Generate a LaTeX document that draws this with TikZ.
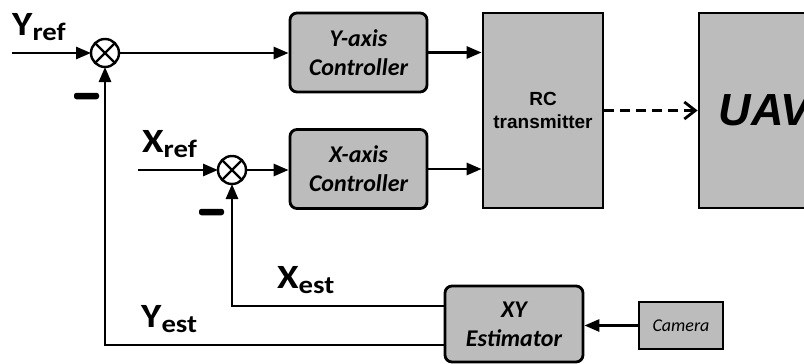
\documentclass[tikz,border=0pt]{standalone}
\usepackage{fontspec}
\setmainfont{Carlito}
\newfontfamily\arialf{Liberation Sans}
\usetikzlibrary{arrows.meta,calc}
\definecolor{boxgray}{RGB}{188,188,188}
\newcommand{\sigtext}[2]{\scalebox{1.15}[1]{#1{\fontsize{25}{25}\selectfont\raisebox{-5pt}{#2}}}}
\begin{document}
\begin{tikzpicture}[x=1pt,y=-1pt,
  blk/.style={draw, line width=2.8pt, fill=boxgray, inner sep=0pt, align=center},
  ctrl/.style={blk, rounded corners=7pt, minimum width=137pt, minimum height=79pt,
    font=\fontsize{24}{29}\selectfont\bfseries\itshape},
  sumj/.style={circle, draw, line width=2.4pt, minimum size=28pt, inner sep=0pt, outer sep=0pt},
  conn/.style={line width=2.8pt, -{Triangle[length=15pt,width=12pt]}},
  sig/.style={anchor=base west, inner sep=0pt, font=\fontsize{34}{34}\selectfont\bfseries},
  minusbar/.style={fill=black, rounded corners=2.5pt, minimum width=25pt, minimum height=6.5pt, inner sep=0pt}
]
\useasboundingbox (0,0) rectangle (804,364);
\clip (0,0) rectangle (804,364);

% blocks
\node[ctrl] (yctrl) at (358.5,52.5) {Y-axis\\Controller};
\node[ctrl] (xctrl) at (358.5,169) {X-axis\\Controller};
\node[blk, minimum width=120pt, minimum height=195pt,
  font=\arialf\fontsize{19}{23}\selectfont\bfseries] (rc) at (543,110.5) {RC\\transmitter};
\node[blk, minimum width=131pt, minimum height=195pt,
  font=\arialf\fontsize{45}{45}\selectfont\bfseries\itshape] (uav) at (764.5,110.5) {UAV};
\node[ctrl, minimum width=138pt, minimum height=76pt] (est) at (514,324) {XY\\Estimator};
\node[blk, minimum width=84pt, minimum height=47pt,
  font=\fontsize{18}{18}\selectfont\itshape] (cam) at (681,325.5) {Camera};

% summing junctions
\node[sumj] (sy) at (105,53) {};
\node[sumj] (sx) at (232,170) {};
\draw[line width=2.4pt] (sy.north east) -- (sy.south west) (sy.north west) -- (sy.south east);
\draw[line width=2.4pt] (sx.north east) -- (sx.south west) (sx.north west) -- (sx.south east);

% minus signs
\node[minusbar] (ym) at (86.5,96) {};
\node[minusbar] (xm) at (211.5,212) {};

% labels
\node[sig] (yref) at (12,35) {\sigtext{Y}{ref}};
\node[sig] (xref) at (142,152) {\sigtext{X}{ref}};
\node[sig] (xest) at (277,288) {\sigtext{X}{est}};
\node[sig] (yest) at (141,327) {\sigtext{Y}{est}};

% coordinates
\coordinate (yin) at (12,53);
\coordinate (xin) at (138,170);
\coordinate (xc) at (232,306);
\coordinate (yc) at (105,345);

% connectors
\draw[conn] (yin) -- (sy.west);
\draw[conn] (sy.east) -- (yctrl.west |- sy.east);
\draw[conn] (yctrl.east) -- (yctrl.east -| rc.west);
\draw[conn] (xin) -- (sx.west);
\draw[conn] (sx.east) -- (xctrl.west |- sx.east);
\draw[conn] (xctrl.east) -- (xctrl.east -| rc.west);
\draw[line width=2.8pt, dash pattern=on 10pt off 6pt,
  -{Straight Barb[length=11pt,width=17pt,line width=2.8pt]}] (rc.east) -- (uav.west);
\draw[conn] (cam.west) -- (cam.west -| est.east);
\draw[conn] (est.west |- xc) -- (xc) -- (sx.south);
\draw[conn] (est.west |- yc) -- (yc) -- (sy.south);
\end{tikzpicture}
\end{document}
